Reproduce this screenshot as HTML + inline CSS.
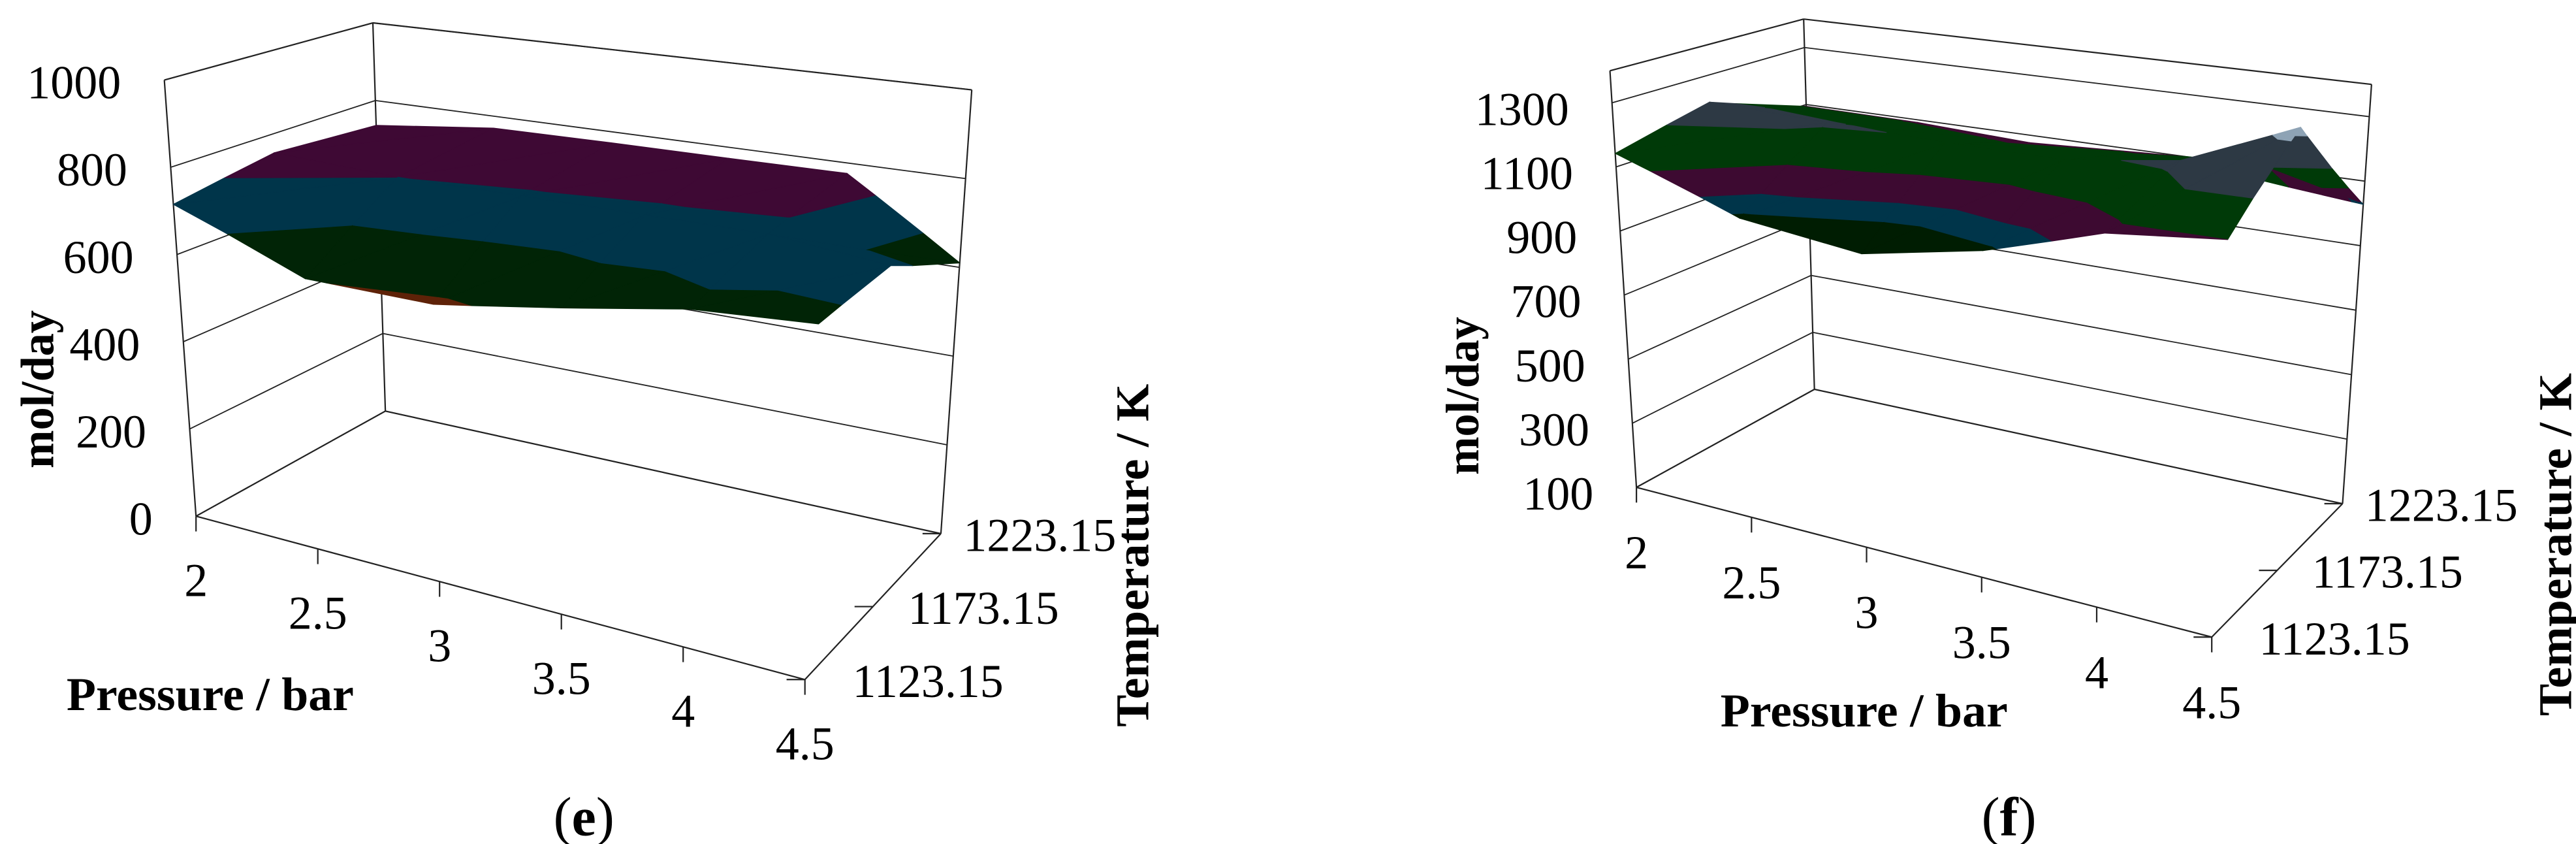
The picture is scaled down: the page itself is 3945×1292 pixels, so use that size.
<!DOCTYPE html>
<html><head><meta charset="utf-8"><style>
html,body{margin:0;padding:0;background:#fff;}
#wrap{position:relative;width:3945px;height:1292px;overflow:hidden;background:#fff;}
svg{position:absolute;top:0;}
text{font-family:"Liberation Serif","Times New Roman",serif;fill:#000;}
</style></head><body>
<div id="wrap">
<svg id="pe" style="left:0" width="1980" height="1292" viewBox="0 0 1550 1550" preserveAspectRatio="none"></svg>
<svg id="pf" style="left:1980px" width="1965" height="1292" viewBox="0 0 1550 1550" preserveAspectRatio="none"></svg>
</div>
<script>
// ---- data ----
const pressures=[2,2.5,3,3.5,4,4.5];
const temps=[1123.15,1173.15,1223.15];
const pressureLabels=["2","2.5","3","3.5","4","4.5"];
const tempLabels=["1123.15","1173.15","1223.15"];
const eRow1123=[715,590,578,611,646,653];
const eRow1173=[754,735,730,725,720,690];
const eRow1223=[736,770,773,774,776,610];
const fRow1123=[1142,990,935,990,1078,1099];
const fRow1173=[1211,1190,1170,1160,1200,1330];
const fRow1223=[1094,1091,1075,1093,1111,1028];
const eTicks=[0,200,400,600,800,1000];
const fTicks=[100,300,500,700,900,1100,1300];
const eBandLimits=[588,665,735];
const fBandLimits=[1000,1040,1100,1180,1300];
const eBandColors=["#5e2208","#012406","#00354a","#3e0934"];
const fBandColors=["#001d02","#00354a","#3d0a31","#003a08","#2d3944","#8ea3b5"];

const NS="http://www.w3.org/2000/svg";
function mk(svg,tag,attrs){const el=document.createElementNS(NS,tag);for(const k in attrs)el.setAttribute(k,attrs[k]);svg.appendChild(el);return el;}

function makePanel(svgId,W,cfg,rows,ticks,bandLimits,bandColors,lab){
  const svg=document.getElementById(svgId);
  const sx=(1550/W).toFixed(4), sy=(1550/1292).toFixed(4);
  const uOf=p=>(p-pressures[0])/(pressures[pressures.length-1]-pressures[0]);
  const vOf=t=>(t-temps[0])/(temps[temps.length-1]-temps[0]);
  function bil(P,u,v,k){return P[0][k]*(1-u)*(1-v)+P[1][k]*u*(1-v)+P[2][k]*u*v+P[3][k]*(1-u)*v;}
  function proj(u,v,z){
    const t=(z-cfg.zmin)/(cfg.zmax-cfg.zmin);
    const F=[cfg.A,cfg.B,cfg.C,cfg.D],V=[cfg.VA,cfg.VB,cfg.VC,cfg.VD];
    return [bil(F,u,v,0)+t*bil(V,u,v,0), bil(F,u,v,1)+t*bil(V,u,v,1)];
  }
  function line(p,q,name,w){
    const l=mk(svg,"line",{x1:p[0],y1:p[1],x2:q[0],y2:q[1],stroke:"#222","stroke-width":w||2.2,"vector-effect":"non-scaling-stroke"});
    
    
    return l;
  }
  function text(x,y,str,name,o){
    o=o||{};
    const t=mk(svg,"text",{transform:`translate(${x} ${y}) scale(${sx} ${sy}) rotate(${o.rot||0})`,"font-size":o.size||72,"text-anchor":o.anchor||"middle","dominant-baseline":"central"});
    if(o.bold)t.setAttribute("font-weight","bold");
    if(o.len){t.setAttribute("textLength",o.len);t.setAttribute("lengthAdjust","spacingAndGlyphs");}
    t.textContent=str;
    
    
    return t;
  }
  const zmin=cfg.zmin,zmax=cfg.zmax;
  ticks.forEach(z=>{
    line(proj(0,0,z),proj(0,1,z),"left-wall-gridline",1.8);
    line(proj(0,1,z),proj(1,1,z),"back-wall-gridline",1.8);
  });
  line(proj(0,0,zmin),proj(0,0,zmax),"z-axis-line");
  line(proj(0,1,zmin),proj(0,1,zmax),"back-corner-edge");
  line(proj(1,1,zmin),proj(1,1,zmax),"right-wall-edge");
  line(proj(0,0,zmax),proj(0,1,zmax),"left-wall-top-edge");
  line(proj(0,1,zmax),proj(1,1,zmax),"back-wall-top-edge");
  line(proj(0,0,zmin),proj(0,1,zmin),"floor-left-edge");
  line(proj(0,1,zmin),proj(1,1,zmin),"floor-back-edge");
  line(proj(0,0,zmin),proj(1,0,zmin),"pressure-axis-line");
  line(proj(1,0,zmin),proj(1,1,zmin),"temperature-axis-line");
  pressures.forEach((p,i)=>{
    const a=proj(uOf(p),0,zmin);
    line(a,[a[0],a[1]+28],"pressure-tick");
    text(a[0],a[1]+cfg.pLabDy,pressureLabels[i],"pressure-tick-label");
  });
  temps.forEach((t,i)=>{
    const v=vOf(t);const a=proj(1,v,zmin);
    line(a,[a[0]-22,a[1]],"temperature-tick");
    text(a[0]+57-30*v,a[1]+3,tempLabels[i],"temperature-tick-label",{anchor:"start"});
  });
  ticks.forEach(z=>{
    const a=proj(0,0,z);
    text(a[0]-52,a[1]+cfg.zLabDy,String(z),"z-tick-label",{anchor:"end"});
  });
  const grid=[rows[0],rows[1],rows[2]];
  const lims=[-1e9].concat(bandLimits).concat([1e9]);
  function clip(poly,lvl,above){
    const out=[];
    for(let k=0;k<poly.length;k++){
      const a=poly[k],b=poly[(k+1)%poly.length];
      const ina=above?a[2]>=lvl:a[2]<=lvl, inb=above?b[2]>=lvl:b[2]<=lvl;
      if(ina)out.push(a);
      if(ina!==inb){const s=(lvl-a[2])/(b[2]-a[2]);out.push([a[0]+s*(b[0]-a[0]),a[1]+s*(b[1]-a[1]),lvl]);}
    }
    return out;
  }
  const g=mk(svg,"g",{});
  
  
  for(let j=temps.length-2;j>=0;j--){
    for(let i=0;i<pressures.length-1;i++){
      const P=(ii,jj)=>[uOf(pressures[ii]),vOf(temps[jj]),grid[jj][ii]];
      const tris=[[P(i,j),P(i+1,j),P(i+1,j+1)],[P(i,j),P(i+1,j+1),P(i,j+1)]];
      tris.forEach(tri=>{
        for(let b=0;b<lims.length-1;b++){
          let poly=clip(tri,lims[b],true);
          if(poly.length<3)continue;
          poly=clip(poly,lims[b+1],false);
          if(poly.length<3)continue;
          const pts=poly.map(q=>proj(q[0],q[1],q[2]).map(n=>n.toFixed(1)).join(",")).join(" ");
          const el=document.createElementNS(NS,"polygon");
          el.setAttribute("points",pts);el.setAttribute("fill",bandColors[b]);
          el.setAttribute("stroke",bandColors[b]);el.setAttribute("stroke-width","1.2");
          el.setAttribute("vector-effect","non-scaling-stroke");el.setAttribute("stroke-linejoin","round");
          
          
          g.appendChild(el);
        }
      });
    }
  }
  text(lab.px,lab.py,"Pressure / bar","x-axis-title",{bold:true,len:440});
  text(lab.mx,lab.my,"mol/day","y-axis-title",{bold:true,rot:-90,len:242});
  text(lab.tx,lab.ty,"Temperature / K","depth-axis-title",{bold:true,rot:-90,len:525});
  const cap=text(lab.cx,lab.cy,"","panel-caption",{size:84});
  cap.innerHTML=`(<tspan font-weight="bold">${lab.letter}</tspan>)`;
}

makePanel("pe",1980,{
  A:[235,948],B:[965,1248],C:[1128,980],D:[462,755],
  VA:[-38,-801],VB:[25,-1000],VC:[37,-815],VD:[-15,-713],
  zmin:0,zmax:1000,pLabDy:118,zLabDy:5
},[eRow1123,eRow1173,eRow1223],eTicks,eBandLimits,eBandColors,
{px:252,py:1275,mx:45,my:715,tx:1358,ty:1020,cx:700,cy:1500,letter:"e"});

makePanel("pf",1965,{
  A:[415,895],B:[1110,1170],C:[1268,925],D:[630,715],
  VA:[-32,-765],VB:[25,-950],VC:[35,-770],VD:[-13,-680],
  zmin:100,zmax:1400,pLabDy:120,zLabDy:12
},[fRow1123,fRow1173,fRow1223],fTicks,fBandLimits,fBandColors,
{px:690,py:1305,mx:205,my:727,tx:1525,ty:1000,cx:865,cy:1500,letter:"f"});
</script>
</body></html>
